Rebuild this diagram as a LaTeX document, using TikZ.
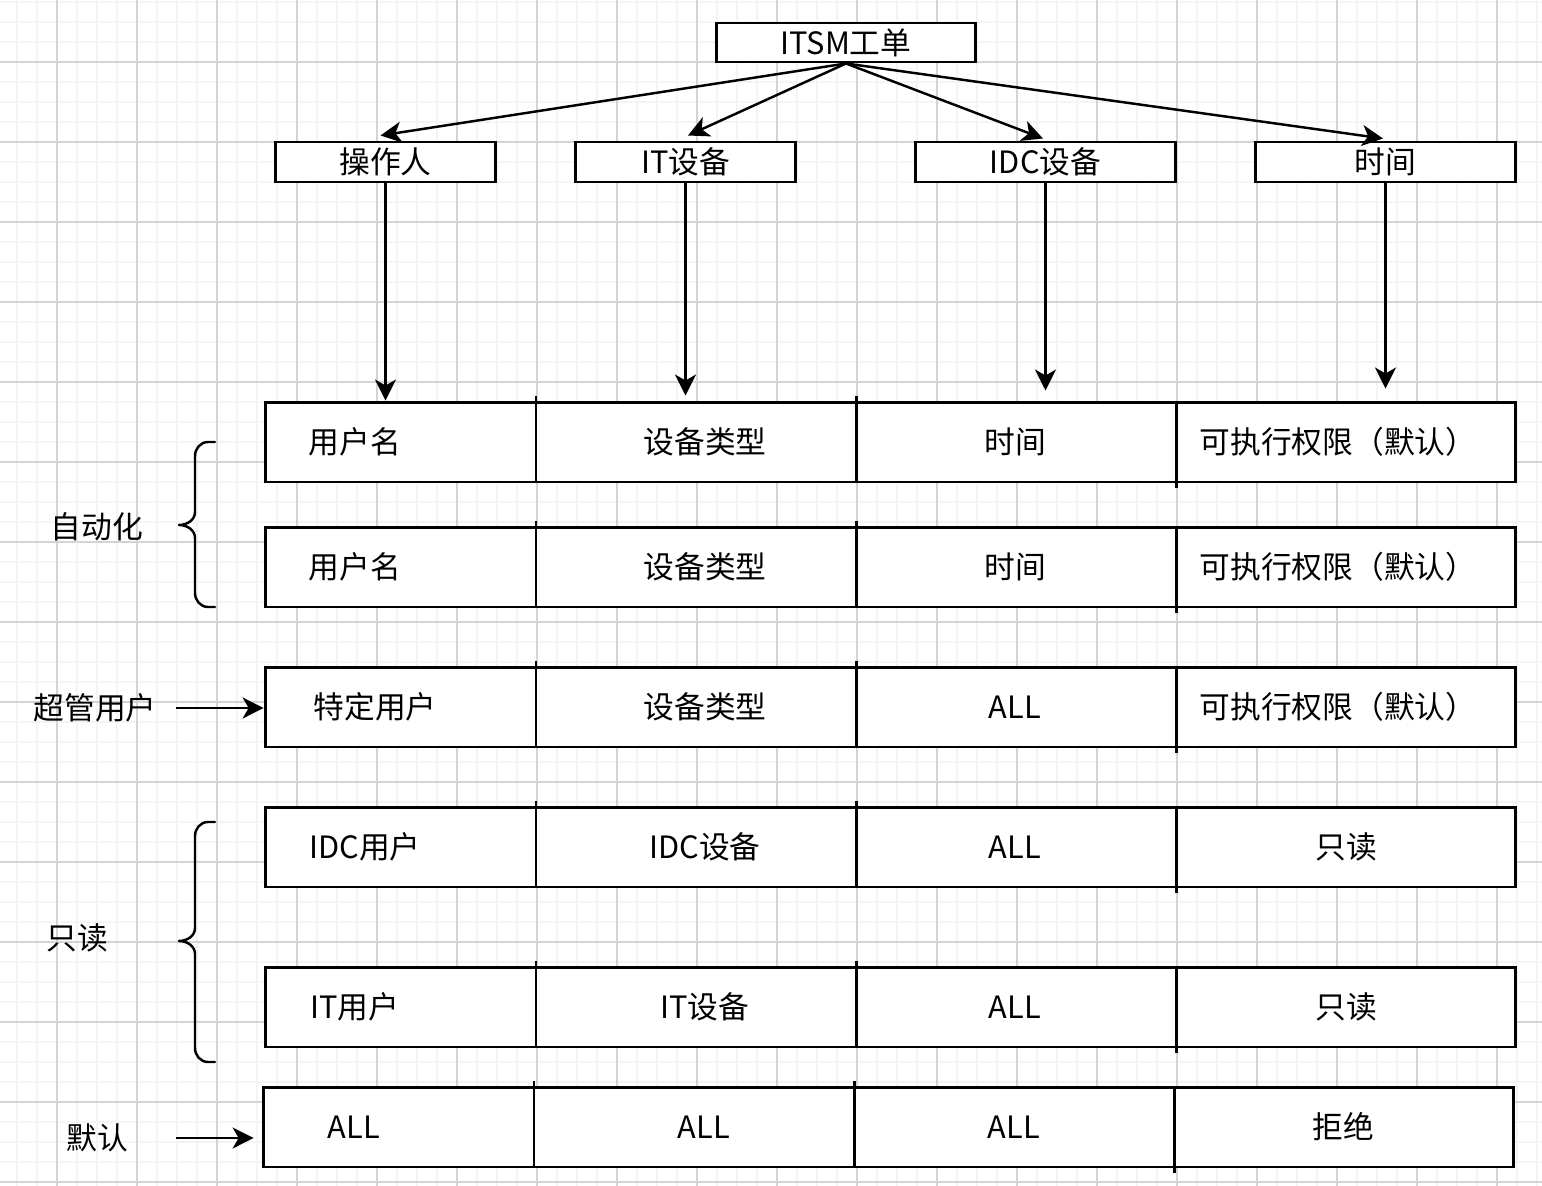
\documentclass[tikz,border=0pt]{standalone}
\usepackage{fontspec}
\setmainfont{Noto Sans CJK SC}
\usetikzlibrary{arrows.meta}
\definecolor{minorgrid}{HTML}{F4F4F4}
\definecolor{majorgrid}{HTML}{D4D4D4}
\tikzset{
  frame/.style={draw=black,line width=1.7pt},
  box/.style={frame,fill=white,inner sep=0pt,minimum height=0.8cm},
  rowbox/.style={frame,fill=white,inner sep=0pt,minimum width=25.02cm,minimum height=1.6cm},
  txt/.style={inner sep=0pt},
  arr/.style={line width=1.4pt,-{Stealth[length=0.42cm,width=0.42cm,inset=0.12cm]}},
  bracepath/.style={line width=1.4pt,line cap=round,line join=round},
}
\begin{document}
\begin{tikzpicture}[x=0.02cm,y=-0.02cm,font=\fontsize{17.5}{20}\selectfont]
      \useasboundingbox (0,0) rectangle (1542,1186);
      % grid
      \fill[white] (0,0) rectangle (1542,1186);
      \foreach \x in {17,37,...,1537} \draw[minorgrid,line width=0.8pt] (\x,0) -- (\x,1186);
      \foreach \y in {2,22,...,1182} \draw[minorgrid,line width=0.8pt] (0,\y) -- (1542,\y);
      \foreach \x in {57,137,...,1497} \draw[majorgrid,line width=0.6pt] (\x,0) -- (\x,1186);
      \foreach \y in {62,142,...,1182} \draw[majorgrid,line width=0.6pt] (0,\y) -- (1542,\y);

      % tree
      \node[box,minimum width=5.2cm,minimum height=0.78cm] (itsm) at (846,42.5) {ITSM工单};
      \node[box,minimum width=4.42cm] (op) at (385.5,162) {操作人};
      \node[box,minimum width=4.42cm] (itdev) at (685.5,162) {IT设备};
      \node[box,minimum width=5.22cm] (idcdev) at (1045.5,162) {IDC设备};
      \node[box,minimum width=5.22cm] (tm) at (1385.5,162) {时间};

      % rows
      \node[rowbox] (row1) at (890.5,442) {};
      \node[rowbox] (row2) at (890.5,567) {};
      \node[rowbox] (row3) at (890.5,707) {};
      \node[rowbox] (row4) at (890.5,847) {};
      \node[rowbox] (row5) at (890.5,1007) {};
      \node[rowbox] (row6) at (888.5,1127) {};
      \foreach \y/\dx in {402/0,527/0,667/0,807/0,967/0,1087/-2} {
        \draw[frame] (536+\dx,\y-6) -- (536+\dx,\y+80);
        \draw[frame] (856+\dx,\y-6) -- (856+\dx,\y+80);
        \draw[frame] (1176+\dx,\y) -- (1176+\dx,\y+86);
      }

      \draw
        (355,442) node[txt] (r1a){用户名}
        (705,442) node[txt] (r1b){设备类型}
        (1015,442) node[txt] (r1c){时间}
        (1338,442) node[txt] (r1d){可执行权限（默认）}
        (355,567) node[txt] (r2a){用户名}
        (705,567) node[txt] (r2b){设备类型}
        (1015,567) node[txt] (r2c){时间}
        (1338,567) node[txt] (r2d){可执行权限（默认）}
        (375,707) node[txt] (r3a){特定用户}
        (705,707) node[txt] (r3b){设备类型}
        (1015,707) node[txt] (r3c){ALL}
        (1338,707) node[txt] (r3d){可执行权限（默认）}
        (365,847) node[txt] (r4a){IDC用户}
        (705,847) node[txt] (r4b){IDC设备}
        (1015,847) node[txt] (r4c){ALL}
        (1346,847) node[txt] (r4d){只读}
        (355,1007) node[txt] (r5a){IT用户}
        (705,1007) node[txt] (r5b){IT设备}
        (1015,1007) node[txt] (r5c){ALL}
        (1346,1007) node[txt] (r5d){只读}
        (354,1127) node[txt] (r6a){ALL}
        (704,1127) node[txt] (r6b){ALL}
        (1014,1127) node[txt] (r6c){ALL}
        (1343,1127) node[txt] (r6d){拒绝};

      % left labels
      \node[txt] (auto) at (97,527) {自动化};
      \node[txt] (super) at (95,708) {超管用户};
      \node[txt] (ro) at (77,938) {只读};
      \node[txt] (deflt) at (97,1138) {默认};

      \begin{scope}[arr]
        \draw (itsm.south) to ([xshift=-0.1cm,yshift=0.1cm]op.north);
        \draw (itsm.south) to ([xshift=0.05cm,yshift=0.1cm]itdev.north);
        \draw (itsm.south) to ([xshift=-0.05cm,yshift=0.04cm]idcdev.north);
        \draw (itsm.south) to ([xshift=-0.05cm,yshift=0.04cm]tm.north);
        \draw (op.south) to (op.south |- row1.north);
        \draw[shorten >=0.1cm] (itdev.south) to (itdev.south |- row1.north);
        \draw[shorten >=0.2cm] (idcdev.south) to (idcdev.south |- row1.north);
        \draw[shorten >=0.24cm] (tm.south) to (tm.south |- row1.north);
        \draw[shorten <=0.38cm] (super.east) to (row3.west |- super.east);
        \draw[shorten <=0.96cm,shorten >=0.16cm] (deflt.east) to (row6.west |- deflt.east);
      \end{scope}

      % braces
      \draw[bracepath] (215,442) -- (208,442) to[out=180,in=90] (195,456) -- (195,512)
        to[out=-90,in=0] (179,525) to[out=0,in=90] (195,538) -- (195,593)
        to[out=-90,in=180] (208,607) -- (215,607);
      \draw[bracepath] (215,822) -- (208,822) to[out=180,in=90] (195,836) -- (195,928)
        to[out=-90,in=0] (179,941) to[out=0,in=90] (195,954) -- (195,1048)
        to[out=-90,in=180] (208,1062) -- (215,1062);
    \end{tikzpicture}
\end{document}
